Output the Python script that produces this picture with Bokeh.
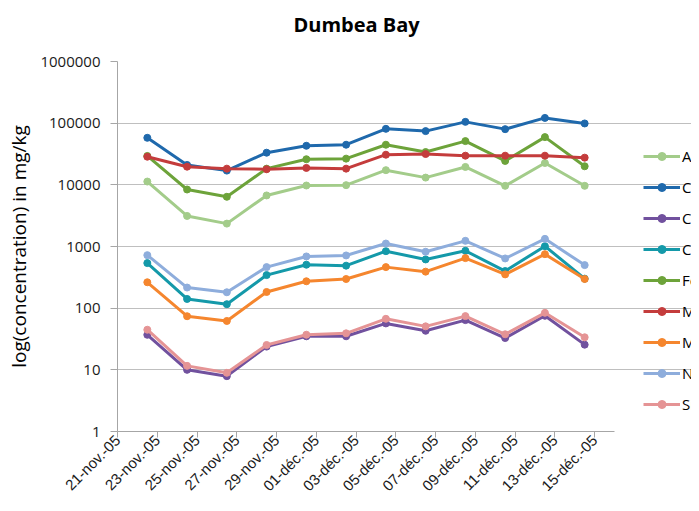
import numpy as np
from datetime import date
from bokeh.plotting import figure
from bokeh.models import FixedTicker, Legend, LegendItem, NumeralTickFormatter, Title
from bokeh.embed import file_html
from bokeh.resources import INLINE

# ---- data ----
axis_start = "2005-11-21"
sample_dates = ["2005-11-22", "2005-11-24", "2005-11-26", "2005-11-28", "2005-11-30",
                "2005-12-02", "2005-12-04", "2005-12-06", "2005-12-08", "2005-12-10",
                "2005-12-12", "2005-12-14"]
tick_labels = ["21-nov.-05", "23-nov.-05", "25-nov.-05", "27-nov.-05", "29-nov.-05",
               "01-déc.-05", "03-déc.-05", "05-déc.-05", "07-déc.-05", "09-déc.-05",
               "11-déc.-05", "13-déc.-05", "15-déc.-05"]
y_ticks = [1, 10, 100, 1000, 10000, 100000, 1000000]

series_names = ["Al", "Ca", "Co", "Cr", "Fe", "Mg", "Mn", "Ni", "Si"]
Al = [11300, 3130, 2350, 6730, 9750, 9890, 17300, 13100, 19500, 9640, 22600, 9640]
Ca = [57900, 21000, 17000, 33200, 43000, 44700, 80900, 74300, 105000, 80000, 121700, 98900]
Co = [37, 10, 7.9, 23.8, 35, 35, 56.6, 43, 64, 32.8, 75.2, 25.6]
Cr = [538, 141, 116, 344, 507, 489, 840, 617, 852, 400, 1012, 301]
Fe = [29400, 8400, 6400, 18300, 26000, 26600, 44700, 34000, 51200, 24400, 59400, 20000]
Mg = [28600, 19700, 18300, 17900, 18800, 18300, 30800, 31600, 29700, 29700, 29700, 27600]
Mn = [263, 74, 62, 183, 273, 297, 463, 391, 648, 353, 751, 297]
Ni = [724, 216, 181, 463, 690, 716, 1117, 821, 1236, 640, 1330, 499]
Si = [44.7, 11.6, 8.95, 25.3, 37.1, 39.1, 67.2, 50.7, 74.3, 37.7, 84, 33.7]
series_values = [Al, Ca, Co, Cr, Fe, Mg, Mn, Ni, Si]
colors = ["#A3CC8A", "#1F69AC", "#71519E", "#1499A9", "#6DA33A",
          "#C43C3C", "#F5862E", "#8EADDC", "#E59495"]

# date axis: day number since axis start; points sit in the middle of their day
d0 = date.fromisoformat(axis_start)
xs = [(date.fromisoformat(d) - d0).days + 0.5 for d in sample_dates]
n_days = 25

# layout (pixels)
W, H = 691, 503
left, top, bottom = 117, 61, 70
axis_px = 497                      # drawn length of the date axis
frame_w = W - left                 # frame runs to the right edge (legend area)
x_end = n_days * frame_w / axis_px

FONT = "Open Sans"
p = figure(width=W, height=H, y_axis_type="log",
           x_range=(0, x_end), y_range=(1, 1e6),
           output_backend="svg", toolbar_location=None,
           title=None,
           min_border_left=left, min_border_right=0,
           min_border_top=top, min_border_bottom=bottom)

# spacer between frame and title, then the title itself
p.add_layout(Title(text=" ", text_font_size="2px", standoff=20), "above")
p.add_layout(Title(text="Dumbea Bay", align="left", offset=176, standoff=0,
                   text_font=FONT, text_font_size="20px", text_font_style="bold",
                   text_color="#000000"), "above")

p.outline_line_color = None
p.background_fill_color = "white"

# y axis
p.yaxis.ticker = FixedTicker(ticks=y_ticks)
p.yaxis.formatter = NumeralTickFormatter(format="0")
p.yaxis.axis_label = "log(concentration) in mg/kg"
p.yaxis.axis_label_text_font = FONT
p.yaxis.axis_label_text_font_size = "19px"
p.yaxis.axis_label_text_font_style = "normal"
p.yaxis.axis_label_text_color = "#000000"
p.yaxis.axis_label_standoff = 5
p.yaxis.major_label_text_font = FONT
p.yaxis.major_label_text_font_size = "15px"
p.yaxis.major_label_text_color = "#1a1a1a"
p.yaxis.major_label_standoff = 10
p.yaxis.major_tick_out = 7
p.yaxis.major_tick_in = 0
p.yaxis.minor_tick_line_color = None
p.yaxis.axis_line_color = "#A6A6A6"
p.yaxis.major_tick_line_color = "#A6A6A6"

# x axis
p.xaxis.bounds = (0, n_days)
p.xaxis.ticker = FixedTicker(ticks=list(range(0, n_days, 2)))
p.xaxis.major_label_overrides = {i * 2: lab for i, lab in enumerate(tick_labels)}
p.xaxis.major_label_orientation = np.pi / 4
p.xaxis.major_label_text_font = "Liberation Sans"
p.xaxis.major_label_text_font_size = "15px"
p.xaxis.major_label_text_color = "#1a1a1a"
p.xaxis.major_label_standoff = 0
p.xaxis.major_tick_out = 6
p.xaxis.major_tick_in = 0
p.xaxis.minor_tick_line_color = None
p.xaxis.axis_line_color = "#A6A6A6"
p.xaxis.major_tick_line_color = "#A6A6A6"

p.xgrid.visible = False
p.ygrid.ticker = FixedTicker(ticks=y_ticks)
p.ygrid.bounds = (0, n_days)
p.ygrid.grid_line_color = "#BFBFBF"
p.ygrid.grid_line_width = 1

items = []
for name, vals, c in zip(series_names, series_values, colors):
    lr = p.line(xs, vals, line_color=c, line_width=3)
    sr = p.scatter(xs, vals, size=7, fill_color=c, line_color=c)
    items.append(LegendItem(label=name, renderers=[lr, sr]))

legend = Legend(items=items, location=(526, 17), padding=0, margin=0,
                spacing=11, glyph_width=37, glyph_height=20, label_height=20,
                label_standoff=2, label_text_font=FONT, label_text_font_size="15px",
                label_text_color="#000000", border_line_color=None,
                background_fill_alpha=0)
p.add_layout(legend)

open("out.html", "w").write(file_html(p, INLINE))
